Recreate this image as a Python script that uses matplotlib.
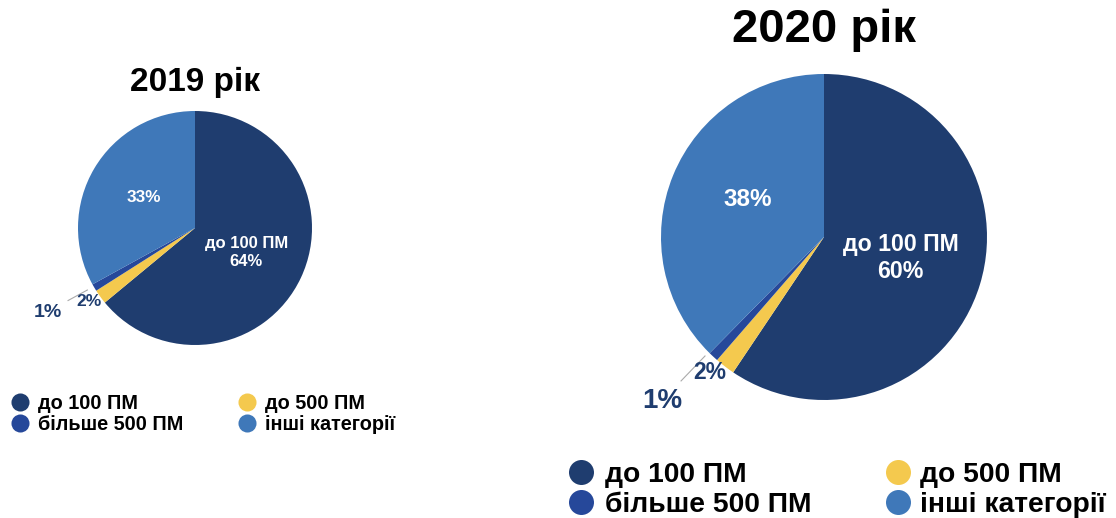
import matplotlib.pyplot as plt
from matplotlib.lines import Line2D

plt.rcParams['font.family'] = ['Liberation Sans', 'DejaVu Sans']
plt.rcParams['font.weight'] = 'bold'

categories = ['до 100 ПМ', 'до 500 ПМ', 'більше 500 ПМ', 'інші категорії']
colors = ['#1f3d6f', '#f4c94e', '#26489a', '#3f78b9']
years = ['2019 рік', '2020 рік']
shares_2019 = [64, 2, 1, 33]
shares_2020 = [60, 2, 1, 38]

W, H = 1116, 518
fig = plt.figure(figsize=(W / 100, H / 100), dpi=100)


def px_axes(cx, cy, r):
    return fig.add_axes([(cx - r) / W, (H - cy - r) / H, 2 * r / W, 2 * r / H])


def draw(ax, shares, title, fs, title_y):
    ax.pie(shares, colors=colors, startangle=90, counterclock=False,
           radius=1, wedgeprops=dict(linewidth=0))
    ax.set_xlim(-1, 1)
    ax.set_ylim(-1, 1)
    ax.set_aspect('equal')
    ax.axis('off')
    ax.text(0, title_y, title, ha='center', va='center', fontsize=fs,
            fontweight='bold', color='black')


# 2019
ax1 = px_axes(195, 228, 117)
draw(ax1, shares_2019, years[0], 24, 1.24)
ax1.text(0.44, -0.21, f'{categories[0]}\n{shares_2019[0]}%', ha='center', va='center',
         color='white', fontsize=12, fontweight='bold', linespacing=1.25)
ax1.text(-0.44, 0.26, f'{shares_2019[3]}%', ha='center', va='center',
         color='white', fontsize=12.3, fontweight='bold')
ax1.text(-0.906, -0.632, f'{shares_2019[1]}%', ha='center', va='center',
         color='#1f3d6f', fontsize=12.5, fontweight='bold')
ax1.text(-1.256, -0.726, f'{shares_2019[2]}%', ha='center', va='center',
         color='#1f3d6f', fontsize=14, fontweight='bold')
ax1.plot([-1.085, -0.92], [-0.62, -0.53], color='#aaaaaa', lw=0.8, clip_on=False)

# 2020
ax2 = px_axes(824, 237, 163)
draw(ax2, shares_2020, years[1], 34, 1.27)
ax2.text(0.47, -0.13, f'{categories[0]}\n{shares_2020[0]}%', ha='center', va='center',
         color='white', fontsize=16.7, fontweight='bold', linespacing=1.25)
ax2.text(-0.47, 0.23, f'{shares_2020[3]}%', ha='center', va='center',
         color='white', fontsize=17.5, fontweight='bold')
ax2.text(-0.70, -0.83, f'{shares_2020[1]}%', ha='center', va='center',
         color='#1f3d6f', fontsize=16.5, fontweight='bold')
ax2.text(-0.994, -1.006, f'{shares_2020[2]}%', ha='center', va='center',
         color='#1f3d6f', fontsize=20, fontweight='bold')
ax2.plot([-0.877, -0.73], [-0.883, -0.73], color='#aaaaaa', lw=0.8, clip_on=False)

# legends (column-major: до 100, більше 500 | до 500, інші)
order = [0, 2, 1, 3]


def legend(col_x, text_x, row_y, base_y, ms, fs):
    for k, i in enumerate(order):
        c, r = divmod(k, 2)
        fig.add_artist(Line2D([col_x[c] / W], [1 - row_y[r] / H], ls='', marker='o',
                              markersize=ms, color=colors[i], markeredgewidth=0,
                              transform=fig.transFigure))
        fig.text(text_x[c] / W, 1 - base_y[r] / H, categories[i], ha='left',
                 va='baseline', fontsize=fs, fontweight='bold', color='black')


legend([20, 247], [38, 265], [402, 423], [409, 430], 13, 14.3)
legend([581, 898], [605, 920], [472, 502], [482, 512], 18, 20.3)

fig.savefig('out.png', dpi=100)
